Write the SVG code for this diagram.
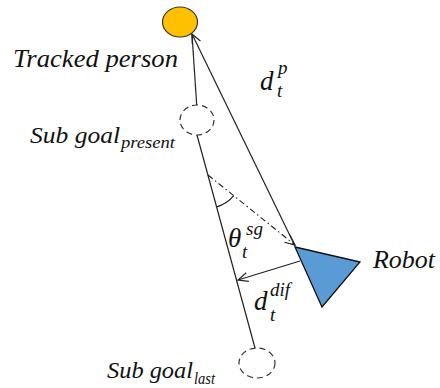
<svg xmlns="http://www.w3.org/2000/svg" width="440" height="388" viewBox="0 0 440 388">
<defs>
<marker id="arr" markerUnits="userSpaceOnUse" viewBox="0 0 12 10" refX="11" refY="5" markerWidth="12" markerHeight="10" orient="auto">
<path d="M1,0.5 L11,5 L1,9.5" fill="none" stroke="#222" stroke-width="1.2"/>
</marker>
<style>
.ln{stroke:#222;stroke-width:1.2;fill:none}
.dd{stroke:#222;stroke-width:1.1;fill:none;stroke-dasharray:6 3 1.5 3}
.sg{fill:#fff;stroke:#333;stroke-width:1.2;stroke-dasharray:6 4}
text{font-family:'Liberation Serif','Times New Roman',serif;font-style:italic;fill:#111}
</style>
</defs>
<rect width="440" height="388" fill="#fff"/>
<g id="connectors">
<line class="ln" x1="196.7" y1="105" x2="192" y2="34"/>
<line class="ln" x1="295" y1="246" x2="192" y2="34" marker-end="url(#arr)"/>
<line class="ln" x1="197" y1="135" x2="255" y2="348"/>
<line class="dd" x1="208" y1="175" x2="295" y2="245" marker-end="url(#arr)"/>
<line class="ln" x1="300" y1="261" x2="238" y2="280" marker-end="url(#arr)"/>
<path class="ln" d="M216.8,206.8 A33,33 0 0 0 233.7,195.7"/>
</g>
<g id="person">
<ellipse cx="180" cy="22" rx="17.5" ry="15" fill="#FFC000" stroke="#333" stroke-width="1.2"/>
<text x="13" y="67" font-size="25" textLength="165" lengthAdjust="spacingAndGlyphs">Tracked person</text>
</g>
<g id="subgoal-present">
<ellipse class="sg" cx="197" cy="120" rx="17" ry="15"/>
<text x="30" y="143" font-size="24" textLength="90" lengthAdjust="spacingAndGlyphs">Sub goal</text>
<text x="121" y="148" font-size="16" textLength="54" lengthAdjust="spacingAndGlyphs">present</text>
</g>
<g id="subgoal-last">
<ellipse class="sg" cx="257" cy="363" rx="18" ry="15"/>
<text x="107" y="378" font-size="24" textLength="86" lengthAdjust="spacingAndGlyphs">Sub goal</text>
<text x="194" y="384" font-size="16" textLength="21" lengthAdjust="spacingAndGlyphs">last</text>
</g>
<g id="robot">
<polygon points="295,247 360,262 322,307" fill="#5B9BD5" stroke="#111" stroke-width="1.3"/>
<text x="373" y="268" font-size="25" textLength="62" lengthAdjust="spacingAndGlyphs">Robot</text>
</g>
<g id="label-dp">
<text x="260" y="90" font-size="27">d</text>
<text x="277" y="97" font-size="19">t</text>
<text x="278" y="74" font-size="19">p</text>
</g>
<g id="label-theta">
<text x="228" y="247" font-size="27">θ</text>
<text x="246" y="235" font-size="19">sg</text>
<text x="242" y="258" font-size="19">t</text>
</g>
<g id="label-ddif">
<text x="254" y="310" font-size="27">d</text>
<text x="270" y="296" font-size="19">dif</text>
<text x="270" y="321" font-size="19">t</text>
</g>
</svg>
